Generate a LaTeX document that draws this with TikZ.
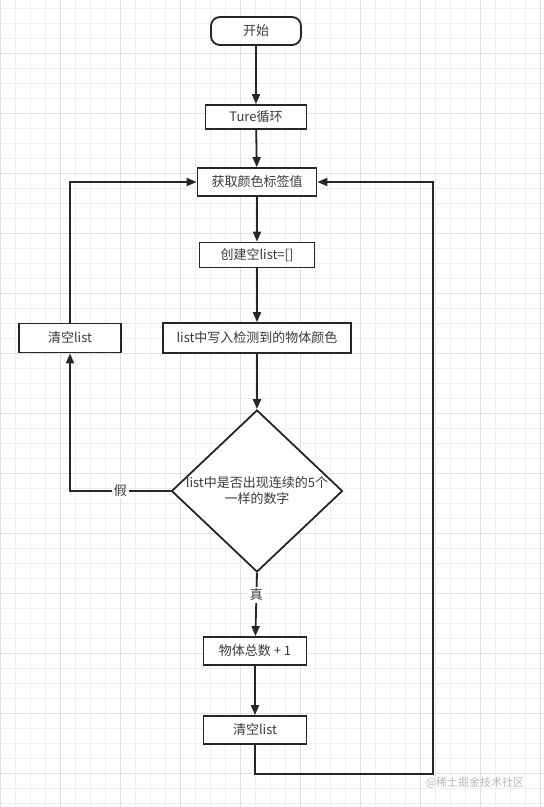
\documentclass[tikz,border=0pt]{standalone}
\usepackage{fontspec}
\setmainfont{Noto Sans CJK SC}
\usetikzlibrary{arrows.meta,shapes.geometric}
\definecolor{ink}{HTML}{262626}
\definecolor{txt}{HTML}{3A3A3A}
\definecolor{gminor}{HTML}{EEEEEE}
\definecolor{gmajor}{HTML}{E0E0E0}
\begin{document}
\begin{tikzpicture}[x=1pt,y=-1pt,
  box/.style={draw=ink, line width=1.8pt, fill=white, inner sep=0pt, text=txt, font=\fontsize{13}{15}\selectfont},
  conn/.style={draw=ink, line width=1.8pt},
  arr/.style={conn, -{Triangle[length=10pt,width=8pt]}},
  lbl/.style={fill=white, text=txt, inner sep=2pt, font=\fontsize{13}{15}\selectfont}]
\fill[white] (0,0) rectangle (544,807);
\useasboundingbox (0,0) rectangle (544,807);
\foreach \x in {0,15,...,540} \draw[gminor, line width=0.8pt] (\x,0) -- (\x,807);
\foreach \y in {8,23,...,806} \draw[gminor, line width=0.8pt] (0,\y) -- (544,\y);
\foreach \x in {0,60,...,540} \draw[gmajor, line width=0.8pt] (\x,0) -- (\x,807);
\foreach \y in {53,113,...,806} \draw[gmajor, line width=0.8pt] (0,\y) -- (544,\y);

\node[box, rounded corners=9pt, minimum width=90pt, minimum height=28pt] (start) at (256,31) {开始};
\node[box, minimum width=101pt, minimum height=24pt] (loop) at (256,117) {Ture循环};
\node[box, minimum width=119pt, minimum height=28pt] (get) at (257,182) {获取颜色标签值};
\node[box, minimum width=115pt, minimum height=25pt] (mk) at (257,255) {创建空list=[]};
\node[box, minimum width=188pt, minimum height=30pt] (wr) at (257,338) {list中写入检测到的物体颜色};
\node[box, diamond, minimum width=171pt, minimum height=162pt] (dia) at (257,491) {};
\node[text=txt, align=center, font=\fontsize{13}{16}\selectfont] (diat) at (257,491) {list中是否出现连续的5个\\一样的数字};
\node[box, minimum width=103pt, minimum height=28pt] (cnt) at (255,651) {物体总数 + 1};
\node[box, minimum width=103pt, minimum height=28pt] (clr) at (255,730) {清空list};
\node[box, minimum width=102pt, minimum height=29pt] (clr2) at (70,338) {清空list};
\coordinate (c1) at (433,774);

\draw[arr] (start) -- (loop);
\draw[arr] (loop) -- (get);
\draw[arr] (get) -- (mk);
\draw[arr] (mk) -- (wr);
\draw[arr] (wr) -- (dia.north);
\draw[arr] (dia.south) -- node[lbl, pos=0.35] {真} (cnt);
\draw[arr] (cnt) -- (clr);
\draw[arr] (clr.south) |- (c1) |- (get.east);
\draw[arr] (dia.west) -| node[lbl, pos=0.25] {假} (clr2.south);
\draw[arr] (clr2.north) |- (get.west);

\node[text=black!28, font=\fontsize{11}{13}\selectfont] (wm) at (475,783) {@稀土掘金技术社区};
\end{tikzpicture}
\end{document}
